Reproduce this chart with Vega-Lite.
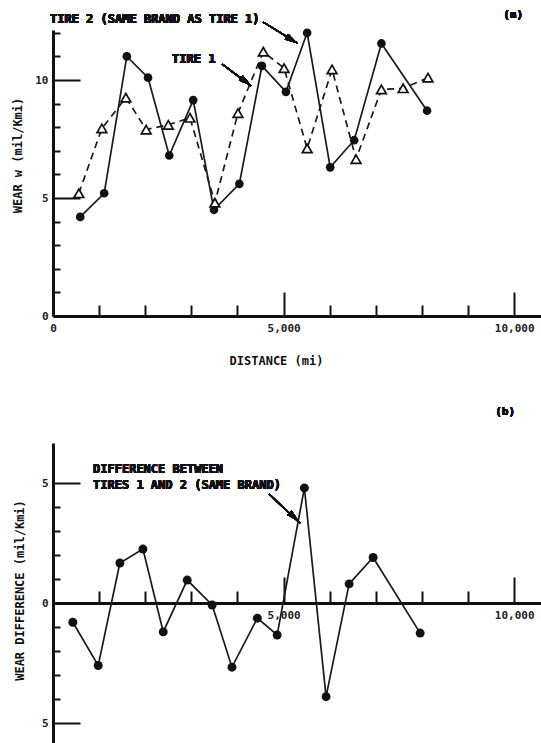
{
  "$schema": "https://vega.github.io/schema/vega-lite/v6.json",
  "background": "white",
  "padding": {"left": 11, "top": 9, "right": 0, "bottom": 0},
  "bounds": "flush",
  "spacing": 127,
  "datasets": {
    "tires": [
      {"distance": 560, "wear": 5.2, "tire": "Tire 1"},
      {"distance": 1060, "wear": 7.95, "tire": "Tire 1"},
      {"distance": 1580, "wear": 9.25, "tire": "Tire 1"},
      {"distance": 2020, "wear": 7.9, "tire": "Tire 1"},
      {"distance": 2500, "wear": 8.1, "tire": "Tire 1"},
      {"distance": 2970, "wear": 8.4, "tire": "Tire 1"},
      {"distance": 3510, "wear": 4.8, "tire": "Tire 1"},
      {"distance": 4010, "wear": 8.6, "tire": "Tire 1"},
      {"distance": 4560, "wear": 11.2, "tire": "Tire 1"},
      {"distance": 5010, "wear": 10.5, "tire": "Tire 1"},
      {"distance": 5510, "wear": 7.1, "tire": "Tire 1"},
      {"distance": 6050, "wear": 10.45, "tire": "Tire 1"},
      {"distance": 6570, "wear": 6.65, "tire": "Tire 1"},
      {"distance": 7120, "wear": 9.6, "tire": "Tire 1"},
      {"distance": 7590, "wear": 9.65, "tire": "Tire 1"},
      {"distance": 8130, "wear": 10.1, "tire": "Tire 1"},
      {"distance": 590, "wear": 4.2, "tire": "Tire 2"},
      {"distance": 1110, "wear": 5.2, "tire": "Tire 2"},
      {"distance": 1600, "wear": 11.0, "tire": "Tire 2"},
      {"distance": 2060, "wear": 10.1, "tire": "Tire 2"},
      {"distance": 2520, "wear": 6.8, "tire": "Tire 2"},
      {"distance": 3040, "wear": 9.15, "tire": "Tire 2"},
      {"distance": 3490, "wear": 4.5, "tire": "Tire 2"},
      {"distance": 4040, "wear": 5.6, "tire": "Tire 2"},
      {"distance": 4530, "wear": 10.6, "tire": "Tire 2"},
      {"distance": 5050, "wear": 9.5, "tire": "Tire 2"},
      {"distance": 5510, "wear": 12.0, "tire": "Tire 2"},
      {"distance": 6010, "wear": 6.3, "tire": "Tire 2"},
      {"distance": 6530, "wear": 7.45, "tire": "Tire 2"},
      {"distance": 7120, "wear": 11.55, "tire": "Tire 2"},
      {"distance": 8110, "wear": 8.7, "tire": "Tire 2"}
    ],
    "diff": [
      {"distance": 430, "difference": -0.8},
      {"distance": 980, "difference": -2.6},
      {"distance": 1450, "difference": 1.67},
      {"distance": 1950, "difference": 2.25},
      {"distance": 2390, "difference": -1.2},
      {"distance": 2910, "difference": 0.96},
      {"distance": 3450, "difference": -0.08},
      {"distance": 3880, "difference": -2.67},
      {"distance": 4430, "difference": -0.63},
      {"distance": 4860, "difference": -1.33},
      {"distance": 5450, "difference": 4.8},
      {"distance": 5920, "difference": -3.9},
      {"distance": 6420, "difference": 0.8},
      {"distance": 6940, "difference": 1.9},
      {"distance": 7960, "difference": -1.25}
    ]
  },
  "vconcat": [
    {
      "width": 488,
      "height": 286,
      "data": {"name": "tires"},
      "encoding": {
        "x": {
          "field": "distance", "type": "quantitative",
          "scale": {"domain": [0, 10580], "nice": false, "zero": false},
          "axis": {
            "values": [0, 1000, 2000, 3000, 4000, 5000, 6000, 7000, 8000, 9000, 10000],
            "labelExpr": "datum.value % 5000 === 0 ? format(datum.value, ',') : ''",
            "tickSize": {"condition": {"test": "datum.value % 5000 === 0", "value": -24}, "value": -11},
            "labelPadding": 30,
            "labelFlush": false,
            "title": "DISTANCE (mi)",
            "titleX": 223,
            "titleY": 44,
            "titleBaseline": "middle"
          }
        },
        "y": {
          "field": "wear", "type": "quantitative",
          "scale": {"domain": [0, 12.12], "nice": false, "zero": false},
          "axis": {
            "values": [0, 1, 2, 3, 4, 5, 6, 7, 8, 9, 10, 11, 12],
            "labelExpr": "datum.value % 5 === 0 ? datum.label : ''",
            "tickSize": {"condition": {"test": "datum.value % 5 === 0", "value": -27}, "value": -7},
            "labelPadding": 32,
            "title": "WEAR w (mil/Kmi)",
            "titleAngle": -90,
            "titleX": -36,
            "titleY": 125,
            "titleAlign": "center",
            "titleBaseline": "middle"
          }
        }
      },
      "layer": [
        {
          "transform": [{"filter": "datum.tire === 'Tire 1'"}],
          "mark": {"type": "line", "color": "#1a1a1a", "strokeWidth": 1.7, "strokeDash": [7, 5]}
        },
        {
          "transform": [{"filter": "datum.tire === 'Tire 2'"}],
          "mark": {"type": "line", "color": "#1a1a1a", "strokeWidth": 1.7}
        },
        {
          "transform": [{"filter": "datum.tire === 'Tire 2'"}],
          "mark": {"type": "point", "shape": "circle", "filled": true, "color": "#111", "size": 75, "opacity": 1}
        },
        {
          "transform": [{"filter": "datum.tire === 'Tire 1'"}],
          "mark": {"type": "point", "shape": "triangle-up", "filled": true, "fill": "white", "stroke": "#111", "strokeWidth": 1.7, "size": 95, "opacity": 1}
        },
        {
          "mark": {"type": "text", "align": "left", "baseline": "middle", "font": "DejaVu Sans Mono", "fontWeight": "bold", "fontSize": 12, "color": "#111", "text": "TIRE 2 (SAME BRAND AS TIRE 1)"},
          "encoding": {"x": {"datum": -65}, "y": {"datum": 12.58}}
        },
        {
          "mark": {"type": "text", "align": "left", "baseline": "middle", "font": "DejaVu Sans Mono", "fontWeight": "bold", "fontSize": 12, "color": "#111", "text": "TIRE 1"},
          "encoding": {"x": {"datum": 2581}, "y": {"datum": 10.89}}
        },
        {
          "mark": {"type": "text", "align": "center", "baseline": "middle", "font": "DejaVu Sans Mono", "fontWeight": "bold", "fontSize": 11, "color": "#111", "text": "(a)"},
          "encoding": {"x": {"datum": 9976}, "y": {"datum": 12.75}}
        },
        {
          "mark": {"type": "rule", "color": "#111", "strokeWidth": 1.4},
          "encoding": {"x": {"datum": 4554}, "y": {"datum": 12.46}, "x2": {"datum": 5292}, "y2": {"datum": 11.57}}
        },
        {
          "mark": {"type": "point", "shape": "M0,-1L0.5,1L-0.5,1Z", "filled": true, "color": "#111", "opacity": 1, "size": 170, "angle": 122},
          "encoding": {"x": {"datum": 5183}, "y": {"datum": 11.69}}
        },
        {
          "mark": {"type": "rule", "color": "#111", "strokeWidth": 1.4},
          "encoding": {"x": {"datum": 3665}, "y": {"datum": 10.68}, "x2": {"datum": 4294}, "y2": {"datum": 9.75}}
        },
        {
          "mark": {"type": "point", "shape": "M0,-1L0.5,1L-0.5,1Z", "filled": true, "color": "#111", "opacity": 1, "size": 170, "angle": 127},
          "encoding": {"x": {"datum": 4186}, "y": {"datum": 9.92}}
        }
      ]
    },
    {
      "width": 488,
      "height": 300,
      "data": {"name": "diff"},
      "encoding": {
        "x": {
          "field": "distance", "type": "quantitative",
          "scale": {"domain": [0, 10580], "nice": false, "zero": false},
          "axis": {
            "values": [1000, 2000, 3000, 4000, 5000, 6000, 7000, 8000, 9000, 10000],
            "labelExpr": "datum.value % 5000 === 0 ? format(datum.value, ',') : ''",
            "tickSize": {"condition": {"test": "datum.value % 5000 === 0", "value": -26}, "value": -12},
            "labelPadding": 32,
            "labelFlush": false,
            "offset": -140,
            "title": null
          }
        },
        "y": {
          "field": "difference", "type": "quantitative",
          "scale": {"domain": [-5.83, 6.67], "nice": false, "zero": false},
          "axis": {
            "values": [-5, -4, -3, -2, -1, 0, 1, 2, 3, 4, 5],
            "labelExpr": "datum.value % 5 === 0 ? format(abs(datum.value), 'd') : ''",
            "tickSize": {"condition": {"test": "datum.value % 5 === 0", "value": -27}, "value": -7},
            "labelPadding": 32,
            "title": "WEAR DIFFERENCE (mil/Kmi)",
            "titleAngle": -90,
            "titleX": -34,
            "titleY": 147,
            "titleAlign": "center",
            "titleBaseline": "middle"
          }
        }
      },
      "layer": [
        {
          "mark": {"type": "line", "color": "#1a1a1a", "strokeWidth": 1.7}
        },
        {
          "mark": {"type": "point", "shape": "circle", "filled": true, "color": "#111", "size": 80, "opacity": 1}
        },
        {
          "mark": {"type": "text", "align": "left", "baseline": "middle", "font": "DejaVu Sans Mono", "fontWeight": "bold", "fontSize": 12, "color": "#111", "text": "DIFFERENCE BETWEEN"},
          "encoding": {"x": {"datum": 868}, "y": {"datum": 5.58}}
        },
        {
          "mark": {"type": "text", "align": "left", "baseline": "middle", "font": "DejaVu Sans Mono", "fontWeight": "bold", "fontSize": 12, "color": "#111", "text": "TIRES 1 AND 2 (SAME BRAND)"},
          "encoding": {"x": {"datum": 868}, "y": {"datum": 4.92}}
        },
        {
          "mark": {"type": "text", "align": "center", "baseline": "middle", "font": "DejaVu Sans Mono", "fontWeight": "bold", "fontSize": 11, "color": "#111", "text": "(b)"},
          "encoding": {"x": {"datum": 9803}, "y": {"datum": 7.96}}
        },
        {
          "mark": {"type": "rule", "color": "#111", "strokeWidth": 1.4},
          "encoding": {"x": {"datum": 4685}, "y": {"datum": 4.54}, "x2": {"datum": 5357}, "y2": {"datum": 3.33}}
        },
        {
          "mark": {"type": "point", "shape": "M0,-1L0.5,1L-0.5,1Z", "filled": true, "color": "#111", "opacity": 1, "size": 170, "angle": 133},
          "encoding": {"x": {"datum": 5227}, "y": {"datum": 3.58}}
        }
      ]
    }
  ],
  "config": {
    "view": {"stroke": null},
    "axis": {
      "grid": false,
      "domainColor": "#111",
      "domainWidth": 3,
      "tickColor": "#111",
      "tickWidth": 2,
      "labelFont": "DejaVu Sans Mono",
      "labelFontWeight": "bold",
      "labelFontSize": 11,
      "labelColor": "#222",
      "titleFont": "DejaVu Sans Mono",
      "titleFontWeight": "bold",
      "titleFontSize": 12,
      "titleColor": "#111"
    }
  }
}
